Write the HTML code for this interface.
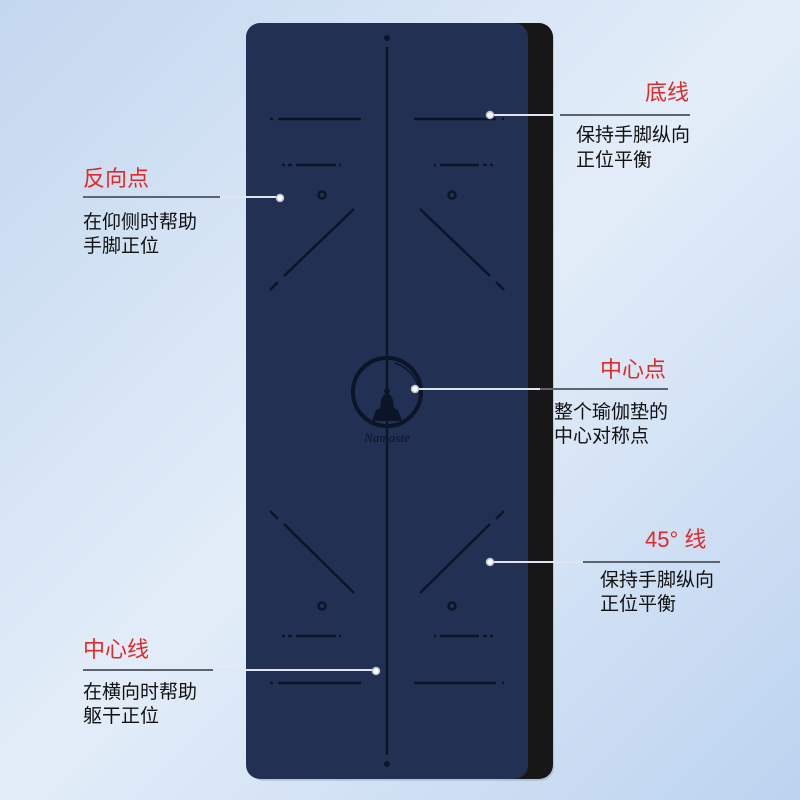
<!DOCTYPE html>
<html><head><meta charset="utf-8"><style>
html,body{margin:0;padding:0;width:800px;height:800px;overflow:hidden}
svg{display:block}
text{font-family:"Liberation Sans","Noto Sans CJK SC",sans-serif}
.t{fill:#e02a2a;font-size:22px}
.b{fill:#111;font-size:19px}
</style></head><body>
<svg width="800" height="800" viewBox="0 0 800 800" xmlns="http://www.w3.org/2000/svg">
<defs>
<linearGradient id="bg" x1="0" y1="0" x2="1" y2="1">
<stop offset="0" stop-color="#c3d7ef"/><stop offset="0.5" stop-color="#e3edf9"/><stop offset="1" stop-color="#bcd3ef"/>
</linearGradient>
</defs>
<rect width="800" height="800" fill="url(#bg)"/>
<rect x="250" y="25" width="304" height="756" rx="14" fill="#9aaac0" opacity="0.5"/>
<rect x="500" y="23" width="53" height="756" rx="14" fill="#171717"/>
<rect x="246" y="23" width="282" height="756" rx="14" fill="#223153"/>
<g stroke="#0c1428" stroke-width="2.5" fill="none" stroke-linecap="butt">
<line x1="387" y1="47" x2="387" y2="755"/>
<line x1="270" y1="119" x2="273" y2="119"/><line x1="278" y1="119" x2="361" y2="119"/>
<line x1="414" y1="119" x2="496" y2="119"/><line x1="502" y1="119" x2="504" y2="119"/>
<line x1="282" y1="165" x2="285" y2="165"/><line x1="288" y1="165" x2="292" y2="165"/><line x1="296" y1="165" x2="336" y2="165"/><line x1="339" y1="165" x2="341" y2="165"/>
<line x1="434" y1="165" x2="436" y2="165"/><line x1="440" y1="165" x2="479" y2="165"/><line x1="483" y1="165" x2="487" y2="165"/><line x1="490" y1="165" x2="493" y2="165"/>
<line x1="354" y1="209" x2="284" y2="276"/><line x1="278" y1="282" x2="270" y2="290"/>
<line x1="420" y1="209" x2="490" y2="276"/><line x1="496" y1="282" x2="504" y2="290"/>
<circle cx="322" cy="195" r="3.5"/><circle cx="452" cy="195" r="3.5"/>
<line x1="270" y1="683" x2="273" y2="683"/><line x1="278" y1="683" x2="361" y2="683"/>
<line x1="414" y1="683" x2="496" y2="683"/><line x1="502" y1="683" x2="504" y2="683"/>
<line x1="282" y1="636" x2="285" y2="636"/><line x1="288" y1="636" x2="292" y2="636"/><line x1="296" y1="636" x2="336" y2="636"/><line x1="339" y1="636" x2="341" y2="636"/>
<line x1="434" y1="636" x2="436" y2="636"/><line x1="440" y1="636" x2="479" y2="636"/><line x1="483" y1="636" x2="487" y2="636"/><line x1="490" y1="636" x2="493" y2="636"/>
<line x1="354" y1="593" x2="284" y2="524"/><line x1="278" y1="519" x2="270" y2="511"/>
<line x1="420" y1="593" x2="490" y2="524"/><line x1="496" y1="519" x2="504" y2="511"/>
<circle cx="322" cy="606" r="3.5"/><circle cx="452" cy="606" r="3.5"/>
<circle cx="387" cy="392" r="34" stroke-width="4"/>
<path d="M395 363 Q415 370 420 392" stroke-width="1.5"/>
</g>
<circle cx="387" cy="38" r="3" fill="#0c1428"/>
<circle cx="387" cy="764" r="3" fill="#0c1428"/>
<path d="M372 421 L376 410 L380 408 L381 400 Q384 393 387 393 Q390 393 393 400 L394 408 L398 410 L402 421 Z" fill="#0c1428"/>
<circle cx="387" cy="391" r="3" fill="#0c1428"/>
<text x="387" y="442" text-anchor="middle" font-size="13" font-style="italic" fill="#0c1428" style="font-family:'Liberation Serif',serif">Namaste</text>
<g stroke-width="2">
<line x1="490" y1="115" x2="560" y2="115" stroke="#dfe6ef"/><line x1="560" y1="115" x2="690" y2="115" stroke="#5c6470"/>
<line x1="83" y1="197" x2="220" y2="197" stroke="#5c6470"/><line x1="220" y1="197" x2="279" y2="197" stroke="#dfe6ef"/>
<line x1="416" y1="389" x2="540" y2="389" stroke="#dfe6ef"/><line x1="540" y1="389" x2="668" y2="389" stroke="#5c6470"/>
<line x1="490" y1="562" x2="583" y2="562" stroke="#dfe6ef"/><line x1="583" y1="562" x2="720" y2="562" stroke="#5c6470"/>
<line x1="83" y1="670" x2="213" y2="670" stroke="#5c6470"/><line x1="213" y1="670" x2="375" y2="670" stroke="#dfe6ef"/>
</g>
<g fill="#ffffff" stroke="#b9c2cf" stroke-width="1.5">
<circle cx="490" cy="115" r="3.5"/><circle cx="280" cy="198" r="3.5"/><circle cx="415" cy="389" r="3.5"/><circle cx="490" cy="562" r="3.5"/><circle cx="376" cy="671" r="3.5"/>
</g>
<text class="t" x="645" y="100">底线</text>
<text class="b" x="576" y="141">保持手脚纵向</text>
<text class="b" x="576" y="166">正位平衡</text>
<text class="t" x="83" y="186">反向点</text>
<text class="b" x="83" y="228">在仰侧时帮助</text>
<text class="b" x="83" y="252">手脚正位</text>
<text class="t" x="600" y="377">中心点</text>
<text class="b" x="554" y="418">整个瑜伽垫的</text>
<text class="b" x="554" y="442">中心对称点</text>
<text class="t" x="645" y="547">45°  线</text>
<text class="b" x="600" y="586">保持手脚纵向</text>
<text class="b" x="600" y="610">正位平衡</text>
<text class="t" x="83" y="657">中心线</text>
<text class="b" x="83" y="698">在横向时帮助</text>
<text class="b" x="83" y="722">躯干正位</text>
</svg>
</body></html>
